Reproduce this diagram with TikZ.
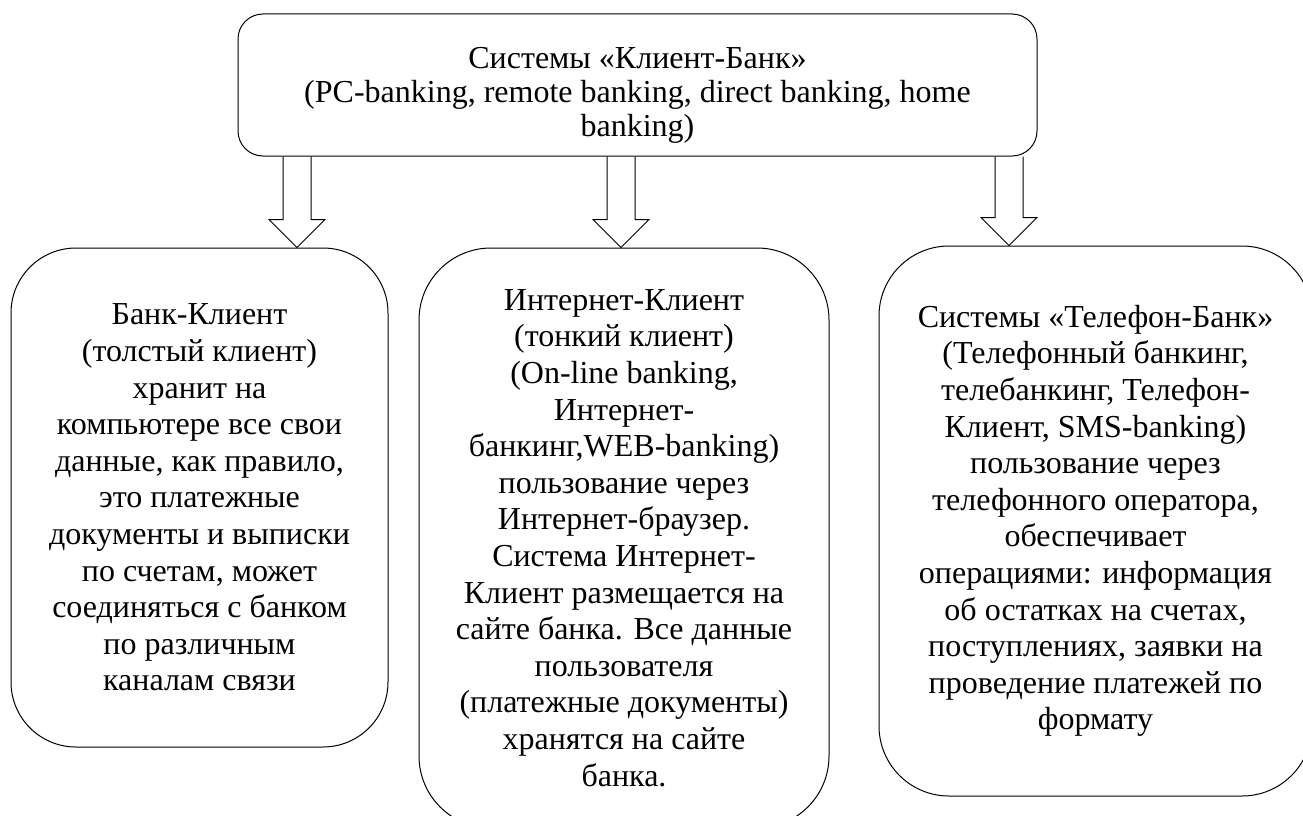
\documentclass[tikz,border=0pt]{standalone}
\usepackage{fontspec}
\setmainfont{Liberation Serif}
\usetikzlibrary{calc}
\tikzset{
  block/.style={draw, line width=1pt, align=center, inner sep=0pt,
    font=\fontsize{32}{36.6}\selectfont},
  hollow/.style={draw, line width=1pt, line join=miter}
}
\begin{document}
\begin{tikzpicture}[x=1pt,y=-1pt]
\clip (0,0) rectangle (1303,816);
\node[block,rounded corners=25pt,minimum width=799pt,minimum height=142pt,
  label={[name=kbtext,align=center,yshift=-10pt,font=\fontsize{32}{34}\selectfont]center:Системы «Клиент-Банк»\\(PC-banking, remote banking, direct banking, home\\banking)}] (kb) at (637.5,85) {};
\node[block,rounded corners=65pt,minimum width=377pt,minimum height=499pt] (bk) at (199.5,497.5) {Банк-Клиент\\(толстый клиент)\\хранит на\\компьютере все свои\\данные, как правило,\\это платежные\\документы и выписки\\по счетам, может\\соединяться с банком\\по различным\\каналам связи};
\node[block,rounded corners=72pt,minimum width=410pt,minimum height=580pt] (ik) at (624,538) {Интернет-Клиент\\(тонкий клиент)\\(On-line banking,\\Интернет-\\банкинг,WEB-banking)\\пользование через\\Интернет-браузер.\\Система Интернет-\\Клиент размещается на\\сайте банка. Все данные\\пользователя\\(платежные документы)\\хранятся на сайте\\банка.};
\node[block,rounded corners=70pt,minimum width=433pt,minimum height=550pt] (tb) at (1095.5,521) {Системы «Телефон-Банк»\\(Телефонный банкинг,\\телебанкинг, Телефон-\\Клиент, SMS-banking)\\пользование через\\телефонного оператора,\\обеспечивает\\операциями: информация\\об остатках на счетах,\\поступлениях, заявки на\\проведение платежей по\\формату};

% block arrows
\foreach \ax/\tgt in {297/bk, 621/ik, 1009/tb}
  \draw[hollow] let \p1=(kb.south), \p2=(\tgt.north) in
    ({(\ax-14)*1pt},\y1) -- ({(\ax-14)*1pt},{\y2+28pt}) -- ({(\ax-28)*1pt},{\y2+28pt})
    -- ({\ax*1pt},\y2) -- ({(\ax+28)*1pt},{\y2+28pt}) -- ({(\ax+14)*1pt},{\y2+28pt})
    -- ({(\ax+14)*1pt},\y1);
\end{tikzpicture}
\end{document}
